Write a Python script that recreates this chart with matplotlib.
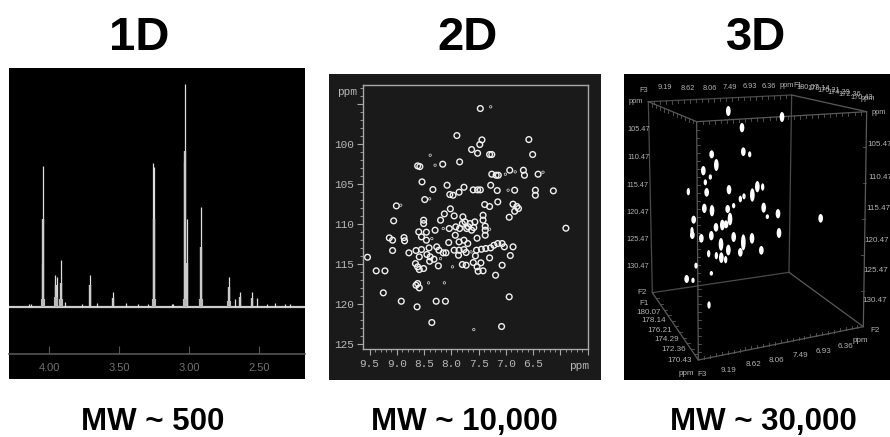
import matplotlib
matplotlib.use("Agg")
import matplotlib.pyplot as plt
from matplotlib.patches import Ellipse

plt.rcParams['font.family'] = ['Liberation Sans', 'DejaVu Sans']

W, H = 890, 437

## 1D spectrum: ppm / height above the baseline
peak_ppm = [4.043, 4.052, 3.957, 3.945, 3.914, 3.886, 3.71, 3.548, 3.257, 3.25,
            3.038, 3.029, 3.017, 2.914, 2.714, 2.676, 2.638, 2.555, 2.517, 2.388,
            4.143, 4.133, 3.769, 3.662, 3.452, 3.369, 3.293, 3.126, 3.114, 2.448, 2.317, 2.281]
peak_height = [141, 43, 32, 30, 47, 5, 32, 15, 144, 140,
               145, 223, 88, 100, 30, 8, 15, 15, 9, 4,
               3, 3, 3, 4, 4, 3, 3, 3, 3, 3, 3, 3]
core_ppm = [4.043, 3.95, 3.914, 3.71, 3.548, 3.254, 3.029, 3.017, 2.914, 2.714, 2.638, 2.555]
core_height = [88, 22, 24, 22, 9, 88, 156, 44, 60, 20, 10, 9]
foot_ppm = [4.046, 3.95, 3.914, 3.254, 3.029, 2.914, 2.714]
foot_height = [8, 10, 8, 8, 8, 8, 6]
ticks_1d = [4.0, 3.5, 3.0, 2.5]

## 2D spectrum: contour spots, x ppm / y ppm
spot_x = [7.47, 7.90, 7.44, 7.48, 6.58, 7.63, 7.52, 7.30, 7.26, 6.51, 7.85, 8.16, 8.62, 8.58, 6.93, 6.68, 6.66,
          6.41, 7.26, 7.14, 7.18, 8.54, 8.08, 8.34, 7.77, 7.60, 7.52, 7.47, 7.86, 8.03, 7.97, 7.28, 7.16, 6.84,
          6.46, 6.46, 6.13, 8.49, 9.01, 7.15, 8.02, 7.39, 7.30, 6.87, 6.80, 6.77, 6.84, 9.06, 8.51, 8.51,
          8.20, 8.13, 7.95, 7.79, 7.42, 7.42, 6.94, 5.90, 8.87, 8.86, 9.14, 9.08, 9.08, 8.78, 8.65, 8.55, 8.59,
          8.60, 8.55, 8.46, 8.46, 8.30, 8.04, 7.92, 7.93, 7.85, 7.80, 7.75, 7.66, 7.57, 7.72, 7.63, 7.69, 7.59,
          7.38, 7.38, 7.38, 7.53, 7.86, 7.77, 7.70, 8.05, 8.41, 8.27, 8.23, 8.15, 8.10, 8.45, 8.39, 8.40, 8.32,
          8.24, 7.95, 7.86, 7.77, 7.73, 7.87, 7.56, 7.54, 7.45, 7.37, 7.28, 7.22, 7.15, 7.07, 7.03, 6.87, 7.30,
          6.92, 8.66, 8.62, 8.59, 8.51, 7.80, 7.73, 7.60, 7.53, 7.51, 7.42, 7.46, 7.07, 7.19, 8.62, 8.65, 8.59,
          9.25, 6.94, 8.92, 8.28, 8.11, 8.63, 8.36, 7.08, 9.38, 9.22, 9.54]
spot_y = [95.54, 98.92, 99.46, 100.04, 99.42, 100.67, 101.13, 101.29, 101.29, 101.29, 102.21, 102.5, 102.71, 102.8,
          103.25, 103.25, 103.88, 103.75, 103.75, 103.88, 103.88, 104.71, 105.13, 105.67, 105.38, 105.71, 105.71,
          105.71, 106.0, 106.29, 106.38, 105.13, 105.79, 105.75, 105.75, 106.38, 105.83, 106.92, 107.71, 107.21,
          108.08, 107.54, 107.79, 107.5, 107.79, 108.04, 108.38, 109.58, 109.5, 109.92, 109.5, 108.71, 108.96,
          109.08, 108.88, 109.5, 109.13, 110.5, 111.67, 112.08, 111.71, 112.0, 113.29, 113.58, 113.29, 113.17,
          114.08, 110.96, 111.58, 111.0, 112.0, 110.75, 110.54, 110.33, 111.38, 110.54, 109.92, 109.71, 109.92,
          109.71, 110.54, 110.75, 110.33, 110.42, 110.25, 110.75, 111.38, 111.75, 112.21, 112.0, 112.42, 112.29,
          112.96, 112.83, 113.25, 113.58, 113.58, 113.79, 114.08, 114.63, 114.38, 115.21, 113.25, 113.25, 113.17,
          113.54, 113.88, 113.96, 113.25, 113.13, 113.04, 112.96, 112.63, 112.42, 112.42, 112.83, 112.83, 114.21,
          113.92, 114.92, 115.33, 115.67, 115.54, 115.04, 115.13, 114.79, 115.33, 115.88, 115.83, 114.83, 115.13,
          116.38, 117.42, 117.63, 117.96, 118.58, 119.08, 119.63, 119.63, 119.63, 120.33, 122.29, 122.79, 115.83,
          115.83, 114.13]
small_x = [7.28, 8.39, 8.30, 6.83, 6.32, 7.01, 6.96, 8.40, 8.93, 8.20, 7.98, 8.42, 8.13, 7.59, 8.36, 8.15, 7.64, 7.30]
small_y = [95.33, 101.38, 102.63, 103.46, 103.5, 103.75, 105.75, 106.83, 107.63, 114.3, 115.33, 117.33, 117.33,
           123.17, 111.8, 110.54, 113.46, 110.63]
xticks_2d = [9.5, 9.0, 8.5, 8.0, 7.5, 7.0, 6.5, 6.0, 5.5]
xlabels_2d = ['9.5', '9.0', '8.5', '8.0', '7.5', '7.0', '6.5', '', '']
yticks_2d = [95, 100, 105, 110, 115, 120, 125]
ylabels_2d = ['', '100', '105', '110', '115', '120', '125']

## 3D spectrum: blobs as projected on the screen, x / y / height
blob_x = [340, 501, 381, 385, 404, 290, 304, 265, 286, 271, 220, 275, 342, 427, 443, 412, 387, 376, 268, 291, 338, 356,
          446, 457, 489, 345, 236, 303, 322, 333, 617, 231, 232, 259, 289, 318, 356, 385, 411, 492, 340, 376, 439, 281,
          304, 319, 332, 243, 289, 215, 234, 282]
blob_y = [138, 156, 188, 260, 268, 268, 300, 317, 336, 352, 380, 382, 374, 365, 366, 390, 394, 402, 430, 437, 432, 422,
          428, 455, 446, 462, 464, 487, 480, 478, 460, 497, 510, 520, 512, 538, 516, 532, 520, 504, 555, 562, 556, 566,
          572, 578, 584, 602, 625, 642, 646, 720]
blob_h = [28, 28, 26, 24, 16, 22, 34, 26, 14, 16, 20, 24, 26, 32, 20, 38, 16, 18, 26, 32, 22, 14,
          28, 12, 26, 36, 22, 24, 30, 22, 24, 20, 22, 24, 26, 36, 28, 46, 30, 28, 30, 24, 24, 20,
          20, 30, 20, 16, 12, 22, 14, 20]

top_labels = ['F3', '9.19', '8.62', '8.06', '7.49', '6.93', '6.36', 'ppm', 'F1', '180.07', '178.14', '176.21', '174.29',
              '172.36', '170.43', 'ppm', 'ppm', 'ppm']
top_x = [85, 150, 218, 283, 345, 405, 462, 515, 548, 578, 610, 640, 672, 705, 740, 758, 790, 62]
top_y = [78, 68, 72, 70, 68, 66, 64, 62, 62, 68, 72, 76, 82, 88, 97, 102, 143, 110]
f2_labels = ['105.47', '110.47', '115.47', '120.47', '125.47', '130.47']
left_x = [72, 70, 68, 68, 68, 68]
left_y = [193, 278, 362, 443, 525, 605]
right_x = [795, 795, 790, 785, 782, 780]
right_y = [240, 338, 430, 528, 617, 707]
low_labels = ['F2', 'F1', '180.07', '178.14', '176.21', '174.29', '172.36', '170.43', 'ppm', 'F3', '9.19', '8.62',
              '8.06', '7.49', '6.93', '6.36', 'ppm', 'F2']
low_x = [82, 88, 100, 115, 135, 155, 175, 195, 215, 262, 340, 415, 485, 555, 625, 692, 735, 780]
low_y = [682, 715, 742, 767, 796, 824, 854, 888, 925, 930, 918, 900, 885, 872, 860, 845, 828, 797]

## corners of the box
front_x = [245, 755, 745, 250, 245]
front_y = [170, 140, 785, 885, 170]
back_x = [100, 530, 522, 112, 100]
back_y = [110, 90, 622, 683, 110]


def panel(fig, x0, y0, x1, y1, color):
    ## axes from pixel box of the image
    ax = fig.add_axes([x0 / W, 1 - y1 / H, (x1 - x0) / W, (y1 - y0) / H], facecolor=color)
    return ax


def edge_ticks(ax, x0, y0, x1, y1, n, dx, dy):
    ## little ticks along an edge of the 3D box
    for i in range(1, n):
        x = x0 + (x1 - x0) * i / n
        y = y0 + (y1 - y0) * i / n
        ax.plot([x, x + dx], [y, y + dy], color='#5a5a5a', lw=0.6)


fig = plt.figure(figsize=(8.9, 4.37), dpi=100, facecolor='white')

## 1D
ax1 = panel(fig, 9, 68, 305, 379, 'black')
ax1.set_xlim(4.288, 2.175)
ax1.set_ylim(-72, 239)
ax1.axhline(0, color='#cccccc', lw=1.6)
ax1.vlines(peak_ppm, 0, peak_height, color='#dddddd', lw=0.9)
ax1.vlines(core_ppm, 0, core_height, color='#cccccc', lw=1.7)
ax1.vlines(foot_ppm, 0, foot_height, color='#bbbbbb', lw=3)
for side in ['top', 'left', 'right']:
    ax1.spines[side].set_visible(False)
ax1.spines['bottom'].set_position(('data', -46.6))
ax1.spines['bottom'].set_color('#555555')
ax1.spines['bottom'].set_linewidth(1.2)
ax1.set_yticks([])
ax1.set_xticks(ticks_1d)
ax1.set_xticklabels(['%.2f' % t for t in ticks_1d])
ax1.tick_params(axis='x', direction='in', length=6, width=0.8, color='#555555',
                labelcolor='#707070', labelsize=8, pad=7)

## 2D
fig.add_artist(plt.Rectangle((329 / W, 1 - 380 / H), 272 / W, 306 / H, transform=fig.transFigure,
                             facecolor='#1a1a1a', edgecolor='none', zorder=-1))
ax2 = panel(fig, 363.3, 85, 587.7, 349, '#1a1a1a')
ax2.set_xlim(9.617, 5.68)
ax2.set_ylim(125.6, 92.6)
ax2.scatter(spot_x, spot_y, s=17, facecolors='none', edgecolors='#f0f0f0', linewidths=1.0)
ax2.scatter(small_x, small_y, s=3, facecolors='none', edgecolors='#dddddd', linewidths=0.5)
for s in ax2.spines.values():
    s.set_color('#a8a8a8')
    s.set_linewidth(1.0)
ax2.set_xticks(xticks_2d)
ax2.set_xticklabels(xlabels_2d, family='Liberation Mono')
ax2.set_yticks(yticks_2d)
ax2.set_yticklabels(ylabels_2d, family='Liberation Mono')
ax2.set_xticks([x / 10 for x in range(56, 96)], minor=True)
ax2.set_yticks(list(range(93, 126)), minor=True)
ax2.tick_params(which='major', length=4, width=0.8, color='#a8a8a8', labelcolor='#b8b8b8', labelsize=8, pad=3)
ax2.tick_params(which='minor', length=2, width=0.6, color='#a8a8a8')
fig.text(346.5 / W, 1 - 92 / H, 'ppm', color='#b8b8b8', fontsize=8, family='Liberation Mono', ha='center', va='center')
fig.text(579 / W, 1 - 366 / H, 'ppm', color='#b8b8b8', fontsize=8, family='Liberation Mono', ha='center', va='center')

## 3D
ax3 = panel(fig, 624, 74, 890, 380, 'black')
ax3.set_xlim(27, 825)
ax3.set_ylim(945, 27)
ax3.set_xticks([])
ax3.set_yticks([])
for s in ax3.spines.values():
    s.set_visible(False)
ax3.plot(back_x, back_y, color='#4a4a4a', lw=0.9)
ax3.plot(front_x, front_y, color='#5a5a5a', lw=0.9)
for i in range(4):
    ax3.plot([back_x[i], front_x[i]], [back_y[i], front_y[i]], color='#5a5a5a', lw=0.9)
edge_ticks(ax3, front_x[0], front_y[0], front_x[1], front_y[1], 28, 0, 9)
edge_ticks(ax3, back_x[0], back_y[0], back_x[1], back_y[1], 24, 0, 9)
edge_ticks(ax3, front_x[3], front_y[3], front_x[2], front_y[2], 28, 0, -9)
edge_ticks(ax3, back_x[0], back_y[0], front_x[0], front_y[0], 12, 0, 10)
edge_ticks(ax3, back_x[3], back_y[3], front_x[3], front_y[3], 12, 9, 0)
edge_ticks(ax3, front_x[0], front_y[0], front_x[3], front_y[3], 30, 8, 0)
edge_ticks(ax3, front_x[1], front_y[1], front_x[2], front_y[2], 6, -9, 0)
for x, y, h in zip(blob_x, blob_y, blob_h):
    ax3.add_patch(Ellipse((x, y), 14 if h > 20 else 10, h + 2, color='white', lw=0, zorder=3))
for labels, xs, ys, size in [(top_labels, top_x, top_y, 5.3), (f2_labels, left_x, left_y, 5.3),
                             (f2_labels, right_x, right_y, 5.8), (low_labels, low_x, low_y, 5.8)]:
    for t, x, y in zip(labels, xs, ys):
        ax3.text(x, y, t, color='#b4b4b4', fontsize=size, ha='center', va='center', clip_on=True)

## titles over and under the panels
for t, x in zip(['1D', '2D', '3D'], [139, 467, 756]):
    fig.text(x / W, 1 - 50 / H, t, fontsize=34, fontweight='bold', ha='center', va='baseline')
for t, x in zip(['MW ~ 500', 'MW ~ 10,000', 'MW ~ 30,000'], [153, 464, 763]):
    fig.text(x / W, 1 - 430 / H, t, fontsize=22.5, fontweight='bold', ha='center', va='baseline')

fig.savefig('out.png', dpi=100, facecolor='white')
